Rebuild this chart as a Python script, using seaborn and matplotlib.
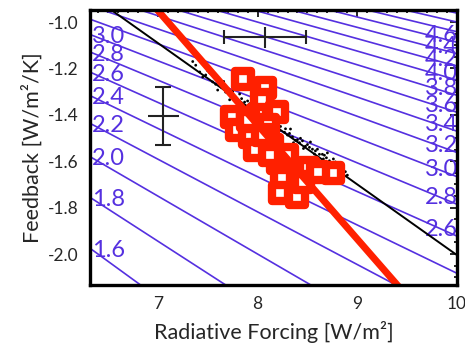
import numpy as np
import pandas as pd
import matplotlib
matplotlib.use("Agg")
import matplotlib.pyplot as plt
import seaborn as sns
from matplotlib.ticker import MultipleLocator

# ---- data ----
# climate-sensitivity iso-lines (K), lambda = -F / (2 S)
sens_levels = [1.6, 1.8, 2.0, 2.2, 2.4, 2.6, 2.8, 3.0, 3.2, 3.4, 3.6, 3.8, 4.0,
               4.2, 4.4, 4.6, 4.8, 5.0, 5.2, 5.4]
left_labels = [1.6, 1.8, 2.0, 2.2, 2.4, 2.6, 2.8, 3.0]
right_labels = [2.6, 2.8, 3.0, 3.2, 3.4, 3.6, 3.8, 4.0, 4.2, 4.4, 4.6]

# model ensemble (small black dots)
dots_F = [7.35, 7.38, 7.45, 7.50, 7.52, 7.55, 7.60, 7.62, 7.66, 7.68, 7.70, 7.72,
          7.75, 7.77, 7.80, 7.82, 7.85, 7.87, 7.90, 7.93, 7.95, 7.98, 8.00, 8.03,
          8.05, 8.08, 8.10, 8.13, 8.15, 8.18, 8.20, 8.20, 8.23, 8.25, 8.28, 8.30,
          8.33, 8.36, 8.40, 8.43, 8.46, 8.50, 8.53, 8.57, 8.60, 8.63, 8.65, 8.67,
          8.70, 8.74, 8.78, 8.82, 8.86, 8.90,
          7.58, 7.64, 7.73, 7.78, 7.84, 7.88, 7.92, 7.97, 8.02, 8.07, 8.12, 8.17,
          8.22, 8.27, 8.32, 8.35, 8.38, 8.42, 8.45, 8.48, 8.52, 8.55, 8.58, 8.62,
          8.66, 8.69, 8.72, 8.76, 8.80, 8.84, 8.88, 7.48, 7.42]
dots_L = [-1.170, -1.186, -1.237, -1.210, -1.219, -1.258, -1.293, -1.264, -1.256,
          -1.302, -1.294, -1.335, -1.299, -1.320, -1.349, -1.310, -1.359, -1.345,
          -1.340, -1.394, -1.380, -1.374, -1.425, -1.384, -1.405, -1.429, -1.396,
          -1.455, -1.431, -1.425, -1.461, -1.430, -1.450, -1.496, -1.460, -1.487,
          -1.461, -1.520, -1.507, -1.501, -1.545, -1.528, -1.517, -1.569, -1.548,
          -1.602, -1.570, -1.574, -1.564, -1.611, -1.603, -1.625, -1.622, -1.660,
          -1.268, -1.282, -1.305, -1.335, -1.330, -1.362, -1.352, -1.398, -1.395,
          -1.412, -1.420, -1.447, -1.468, -1.475, -1.480, -1.495, -1.510, -1.520,
          -1.512, -1.535, -1.540, -1.548, -1.555, -1.570, -1.590, -1.585, -1.598,
          -1.590, -1.612, -1.640, -1.645, -1.228, -1.215]

# regression line through the dots
black_F = [6.50, 10.0]
black_L = [-0.9375, -2.005]

# red squares (observational estimates)
sq_F = [7.855, 8.075, 8.045, 7.745, 7.795, 7.925, 8.195, 8.005, 8.105, 7.975,
        8.145, 8.205, 8.245, 8.225, 8.395, 8.505, 8.755, 8.455, 8.295, 8.055,
        7.905, 8.125, 8.605]
sq_L = [-1.246, -1.284, -1.336, -1.409, -1.466, -1.496, -1.388, -1.401, -1.444,
        -1.552, -1.530, -1.608, -1.672, -1.737, -1.754, -1.629, -1.651, -1.690,
        -1.573, -1.487, -1.422, -1.573, -1.647]

# thick red regression line
red_F = [6.95, 9.45]
red_L = [-0.925, -2.158]

# error bars
ebx_x, ebx_y, ebx_xerr, ebx_yerr = 8.075, -1.065, 0.41, 0.045
eby_x, eby_y, eby_xerr, eby_yerr = 7.055, -1.405, 0.155, 0.125

XLIM = (6.32, 10.0)
YLIM = (-2.134, -0.948)
BLUE = "#5530e0"
RED = "#ff2000"

sns.set_theme(style="white")
plt.rcParams["font.family"] = ["Lato", "DejaVu Sans"]

fig = plt.figure(figsize=(4.65, 3.46), dpi=100)
ax = fig.add_axes([0.1935, 0.176, 0.7895, 0.795])

# iso-sensitivity lines
Fgrid = np.array(XLIM)
for s in sens_levels:
    ax.plot(Fgrid, -Fgrid / (2 * s), color=BLUE, lw=1.2, zorder=1)
for s in left_labels:
    ax.text(XLIM[0] + 0.02, -XLIM[0] / (2 * s) - 0.01, f"{s:.1f}", color=BLUE,
            fontsize=17, ha="left", va="center", zorder=2)
for s in right_labels:
    ax.text(XLIM[1] + 0.01, -XLIM[1] / (2 * s) + 0.03, f"{s:.1f}", color=BLUE,
            fontsize=17, ha="right", va="center", zorder=2, clip_on=False)

dots = pd.DataFrame({"F": dots_F, "L": dots_L})
sns.scatterplot(data=dots, x="F", y="L", ax=ax, s=4, color="black",
                edgecolor="none", zorder=3, legend=False)
sns.lineplot(x=black_F, y=black_L, ax=ax, color="black", lw=1.4, zorder=3)

sq = pd.DataFrame({"F": sq_F, "L": sq_L})
sns.scatterplot(data=sq, x="F", y="L", ax=ax, marker="s", s=120,
                facecolor="white", edgecolor=RED, linewidth=6, zorder=4,
                legend=False)
sns.lineplot(x=red_F, y=red_L, ax=ax, color=RED, lw=5, zorder=5)

ax.errorbar([ebx_x], [ebx_y], xerr=[ebx_xerr], fmt="none", ecolor="#222222",
            elinewidth=1.5, capsize=5, capthick=1.5, zorder=6)
ax.errorbar([ebx_x], [ebx_y], yerr=[ebx_yerr], fmt="none", ecolor="#222222",
            elinewidth=1.5, capsize=0, zorder=6)
ax.errorbar([eby_x], [eby_y], yerr=[eby_yerr], fmt="none", ecolor="#222222",
            elinewidth=1.5, capsize=5.5, capthick=1.5, zorder=6)
ax.errorbar([eby_x], [eby_y], xerr=[eby_xerr], fmt="none", ecolor="#222222",
            elinewidth=1.5, capsize=0, zorder=6)

ax.set_xlim(*XLIM)
ax.set_ylim(*YLIM)
ax.set_xticks([7, 8, 9, 10])
ax.set_xticklabels(["7", "8", "9", "10"])
ax.set_yticks([-1.0, -1.2, -1.4, -1.6, -1.8, -2.0])
ax.set_yticklabels(["-1.0", "-1.2", "-1.4", "-1.6", "-1.8", "-2.0"])
ax.xaxis.set_minor_locator(MultipleLocator(0.1))
ax.yaxis.set_minor_locator(MultipleLocator(0.05))
ax.tick_params(which="both", direction="in", top=True, right=True,
               color="black", width=1.2)
ax.tick_params(which="major", length=5, labelsize=12.5, pad=8)
ax.tick_params(which="minor", length=2.5)
for sp in ax.spines.values():
    sp.set_linewidth(2.4)
    sp.set_color("black")
    sp.set_zorder(10)

ax.set_xlabel("Radiative Forcing [W/m²]", fontsize=15.5, labelpad=6)
ax.set_ylabel("Feedback [W/m²/K]", fontsize=15.5, labelpad=4)

fig.savefig("out.png", dpi=100)
